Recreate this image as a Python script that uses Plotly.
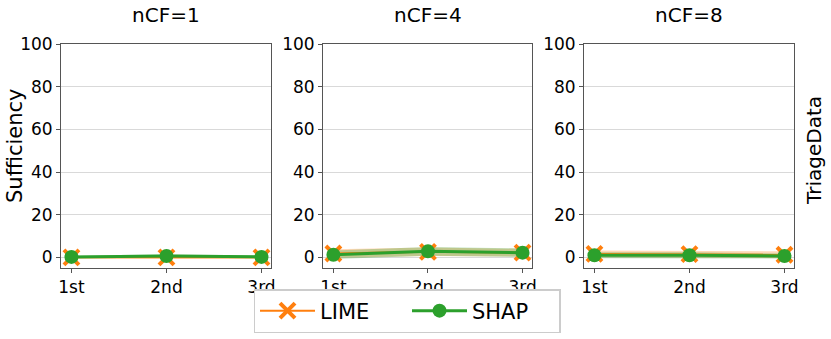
import plotly.graph_objects as go

W, H = 831, 339
positions = ["1st", "2nd", "3rd"]
panels = ["nCF=1", "nCF=4", "nCF=8"]

lime_mean = [[0.0, 0.0, 0.0], [1.8, 2.6, 2.2], [1.6, 1.5, 1.2]]
lime_err = [[0.6, 0.8, 0.6], [2.0, 2.0, 1.8], [1.6, 1.6, 1.6]]
shap_mean = [[0.2, 0.6, 0.2], [1.2, 2.8, 2.2], [1.0, 1.0, 0.6]]
shap_err = [[0.6, 0.8, 0.6], [2.0, 2.0, 2.0], [1.4, 1.4, 1.2]]

ORANGE = "#ff7f0e"
GREEN = "#2ca02c"

xdoms = [(61, 271), (323, 532), (584, 794)]
ytop, ybot = 44, 268

fig = go.Figure()

for i in range(3):
    xa = "x" if i == 0 else f"x{i+1}"
    ya = "y" if i == 0 else f"y{i+1}"
    xs = [0, 1, 2]
    for mean, err, col, rgba in [
        (lime_mean[i], lime_err[i], ORANGE, "rgba(255,127,14,0.3)"),
        (shap_mean[i], shap_err[i], GREEN, "rgba(44,160,44,0.3)"),
    ]:
        lo = [m - e for m, e in zip(mean, err)]
        hi = [m + e for m, e in zip(mean, err)]
        fig.add_trace(go.Scatter(x=xs, y=hi, mode="lines", line=dict(width=0),
                                 showlegend=False, hoverinfo="skip", xaxis=xa, yaxis=ya))
        fig.add_trace(go.Scatter(x=xs, y=lo, mode="lines", line=dict(width=0),
                                 fill="tonexty", fillcolor=rgba,
                                 showlegend=False, hoverinfo="skip", xaxis=xa, yaxis=ya))
    fig.add_trace(go.Scatter(
        x=xs, y=lime_mean[i], mode="lines+markers", name="LIME",
        line=dict(color=ORANGE, width=2),
        marker=dict(symbol="x-thin", size=15, color=ORANGE, line=dict(color=ORANGE, width=4)),
        showlegend=(i == 0), xaxis=xa, yaxis=ya))
    fig.add_trace(go.Scatter(
        x=xs, y=shap_mean[i], mode="lines+markers", name="SHAP",
        line=dict(color=GREEN, width=3),
        marker=dict(symbol="circle", size=14, color=GREEN),
        showlegend=(i == 0), xaxis=xa, yaxis=ya))

layout = dict(
    width=W, height=H,
    margin=dict(l=0, r=0, t=0, b=0, autoexpand=False),
    paper_bgcolor="white", plot_bgcolor="white",
    font=dict(family="DejaVu Sans", size=17, color="black"),
    showlegend=True,
    legend=dict(orientation="h", x=407 / W, xanchor="center", y=1 - 333 / H, yanchor="bottom",
                bordercolor="#cccccc", borderwidth=1.5, bgcolor="white", traceorder="normal",
                font=dict(size=21), entrywidth=82, itemwidth=55),
)
annotations = []
for i in range(3):
    sfx = "" if i == 0 else str(i + 1)
    x0, x1 = xdoms[i]
    layout["xaxis" + sfx] = dict(
        domain=[x0 / W, x1 / W], range=[-0.11, 2.1], anchor="y" + sfx,
        tickvals=[0, 1, 2], ticktext=positions, showgrid=False, zeroline=False,
        showline=True, linecolor="#555555", linewidth=1, mirror=True,
        ticks="outside", ticklen=4, tickcolor="#555555", tickfont=dict(size=17))
    layout["yaxis" + sfx] = dict(
        domain=[1 - ybot / H, 1 - ytop / H], range=[-5, 100], anchor="x" + sfx,
        tickvals=[0, 20, 40, 60, 80, 100], showgrid=True, gridcolor="#d9d9d9", gridwidth=1,
        zeroline=False, showline=True, linecolor="#555555", linewidth=1, mirror=True,
        ticks="outside", ticklen=4, tickcolor="#555555", tickfont=dict(size=17))
    annotations.append(dict(text=panels[i], x=(x0 + x1) / 2 / W, y=1 - 15 / H,
                            xref="paper", yref="paper", showarrow=False,
                            font=dict(size=20), xanchor="center", yanchor="middle"))
annotations.append(dict(text="Sufficiency", x=15 / W, y=1 - 146 / H, xref="paper", yref="paper",
                        showarrow=False, textangle=-90, font=dict(size=21),
                        xanchor="center", yanchor="middle"))
annotations.append(dict(text="TriageData", x=814 / W, y=1 - 151 / H, xref="paper", yref="paper",
                        showarrow=False, textangle=-90, font=dict(size=20),
                        xanchor="center", yanchor="middle"))
layout["annotations"] = annotations
fig.update_layout(**layout)
fig.write_html("out.html", post_script="document.body.style.margin='0px';",
               config={"displayModeBar": False})
